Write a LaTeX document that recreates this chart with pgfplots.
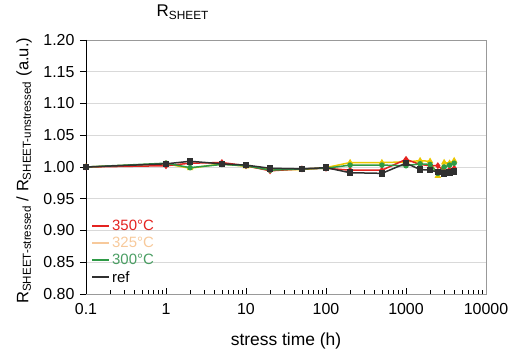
\documentclass[border=0pt]{standalone}
\usepackage{pgfplots}
\pgfplotsset{compat=1.18}
\usepackage{fontspec}
\setmainfont{Liberation Sans}

\definecolor{cRed}{HTML}{E42320}
\definecolor{cGold}{HTML}{EBC700}
\definecolor{cPeach}{HTML}{F7C99B}
\definecolor{cGreen}{HTML}{2E9A46}
\definecolor{cGreenT}{HTML}{4A9E63}
\definecolor{cRef}{HTML}{303030}
\definecolor{cGrid}{HTML}{D9D9D9}

\pgfplotstableread{
t      r350   r325   r300   rref
0.1    1.000  1.000  1.000  1.000
1      1.002  1.005  1.006  1.005
2      1.006  0.998  0.999  1.009
5      1.007  1.005  1.004  1.005
10     1.002  1.001  1.002  1.003
20     0.994  0.996  0.995  0.998
50     0.997  0.996  0.997  0.997
100    0.998  0.999  0.998  0.999
200    0.995  1.007  1.003  0.991
500    0.995  1.007  1.003  0.990
1000   1.012  1.008  1.002  1.006
1500   1.004  1.010  1.005  0.996
2000   1.002  1.009  1.004  0.995
2500   1.002  0.986  0.990  0.992
3000   0.994  1.007  1.000  0.990
3500   0.996  1.006  1.003  0.991
4000   0.998  1.010  1.006  0.993
}\rsheet

\begin{document}
\begin{tikzpicture}
\useasboundingbox (0,0) rectangle (510bp,352bp);
\begin{axis}[
  at={(86bp,58bp)}, anchor=south west,
  scale only axis, width=400bp, height=254bp,
  xmode=log, xmin=0.1, xmax=10000,
  ymin=0.80, ymax=1.20,
  ytick={0.80,0.85,...,1.201},
  yticklabel style={/pgf/number format/fixed, /pgf/number format/fixed zerofill,
    /pgf/number format/precision=2, xshift=-8bp},
  log ticks with fixed point,
  /pgf/number format/1000 sep={},
  /pgf/number format/assume math mode=true,
  ticklabel style={font=\fontsize{16}{19}\selectfont},
  xtick pos=bottom, ytick pos=left,
  tick align=inside,
  major tick length=6bp, minor tick length=4bp,
  ytick style={xshift=-6bp},
  tick style={black, line width=0.6bp},
  ymajorgrids, major grid style={cGrid, line width=0.8bp},
  axis line style={draw=gray!80, line width=0.8bp},
  xticklabel style={yshift=-6bp},
  xlabel={stress time (h)},
  ylabel={R\textsubscript{SHEET-stressed} / R\textsubscript{SHEET-unstressed} (a.u.)},
  every axis x label/.style={at={(axis description cs:0.5,-0.185)}, anchor=center,
    font=\fontsize{17.5}{20}\selectfont},
  every axis y label/.style={at={(axis description cs:-0.155,0.485)}, anchor=center,
    rotate=90, font=\fontsize{16.6}{19}\selectfont},
  title={R\textsubscript{SHEET}},
  title style={at={(axis description cs:0.168,1)}, anchor=west, yshift=22bp,
    font=\fontsize{17}{20}\selectfont},
  legend style={draw=none, fill=none, at={(axis description cs:0.01,0.302)},
    anchor=north west, font=\fontsize{15}{17}\selectfont,
    row sep=1bp, inner sep=1bp},
  legend cell align=left,
  legend image code/.code={\draw[#1, line width=2bp] (0bp,0bp) -- (17bp,0bp);},
]
\addplot[cGold, line width=1.5bp, mark=triangle*, mark size=2.3bp, forget plot] table[x=t, y=r325] {\rsheet};
\addplot[cRed, line width=1.5bp, mark=diamond*, mark size=2.3bp, forget plot] table[x=t, y=r350] {\rsheet};
\addplot[cGreen, line width=1.5bp, mark=*, mark size=2bp, forget plot] table[x=t, y=r300] {\rsheet};
\addplot[cRef, line width=1.5bp, mark=square*, mark size=2.5bp, forget plot] table[x=t, y=rref] {\rsheet};

\addlegendimage{cRed}
\addlegendentry[text=cRed]{350°C}
\addlegendimage{cPeach}
\addlegendentry[text=cPeach]{325°C}
\addlegendimage{cGreen}
\addlegendentry[text=cGreenT]{300°C}
\addlegendimage{cRef}
\addlegendentry[text=black]{ref}

\draw[black, line width=0.8bp] (rel axis cs:0,1) -- (rel axis cs:0,0) -- (rel axis cs:1,0);
\end{axis}
\end{tikzpicture}
\end{document}
